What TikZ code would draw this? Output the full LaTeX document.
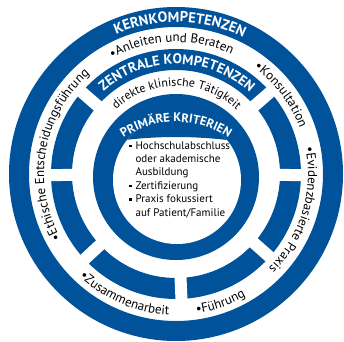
\documentclass[tikz,border=0pt]{standalone}
\usepackage{fontspec}
\setmainfont{PT Sans}
\usetikzlibrary{decorations.text}
\definecolor{ringblau}{RGB}{0,83,155}
\newcommand\kopfschrift[1]{\fontsize{#1}{#1}\selectfont\bfseries\color{white}}
\newcommand\punktschrift{\fontsize{13}{13}\selectfont}
\tikzset{
  bogentext/.style={decorate, decoration={text along path, text align=center, text={#1}}},
}
\begin{document}
\begin{tikzpicture}[x=1pt, y=1pt, line join=round]
\useasboundingbox (-176,-167) rectangle (168,174);
\coordinate (O) at (0,0);
% Außenring
\draw[ringblau, line width=20pt] (O) circle[radius=157pt];
% mittlerer Ring mit Lücken
\draw[ringblau, line width=21pt] (O) circle[radius=114.5pt];
\foreach \w in {-0.5,41,139,180.5,223,272.5,318.5}
  \draw[white, line width=12pt] (O) ++(\w:99pt) -- ++(\w:31pt);
% Innenring, oben breiter
\coordinate (I) at (1,-6);
\fill[ringblau] (0,-3) circle[radius=83pt];
\fill[white] (I) circle[radius=64pt];
\begin{scope}
  \clip (I) circle[radius=64pt];
  \fill[ringblau] (0,-400) ++(100:437pt) arc[start angle=100, end angle=80, radius=437pt]
    -- (80,80) -- (-80,80) -- cycle;
\end{scope}
% Überschriften auf den Ringen
\path[bogentext={|\kopfschrift{14.5}|KERNKOMPETENZEN}]
  (O) ++(128.5:152pt) arc[start angle=128.5, end angle=48.5, radius=152pt];
\path[bogentext={|\kopfschrift{14}|ZENTRALE KOMPETENZEN}]
  (O) ++(144.5:110pt) arc[start angle=144.5, end angle=34.5, radius=110pt];
\path[bogentext={|\fontsize{12}{12}\selectfont|direkte klinische Tätigkeit}]
  (O) ++(144.5:88pt) arc[start angle=144.5, end angle=34.5, radius=88pt];
\path[bogentext={|\kopfschrift{12.5}|PRIMÄRE KRITERIEN}]
  (0,-43) ++(135:95pt) arc[start angle=135, end angle=45, radius=95pt];
% Kernkompetenzen
\path[bogentext={|\punktschrift|•Anleiten und Beraten}]
  (O) ++(137:132pt) arc[start angle=137, end angle=47, radius=132pt];
\path[bogentext={|\punktschrift|•Konsultation}]
  (O) ++(62:132pt) arc[start angle=62, end angle=12, radius=132pt];
\path[bogentext={|\punktschrift|•Evidenzbasierte Praxis}]
  (O) ++(22:132pt) arc[start angle=22, end angle=-56, radius=132pt];
\path[bogentext={|\punktschrift|•Führung}]
  (O) ++(-92:141pt) arc[start angle=-92, end angle=-50, radius=141pt];
\path[bogentext={|\punktschrift|•Zusammenarbeit}]
  (O) ++(214:141pt) arc[start angle=214, end angle=280, radius=141pt];
\path[bogentext={|\punktschrift|•Ethische Entscheidungsführung}]
  (O) ++(230:132pt) arc[start angle=230, end angle=110, radius=132pt];
% Kriterien im Kreis
\node[anchor=base west, inner sep=0pt, font=\fontsize{11}{13.4}\selectfont] (krit) at (-47,25)
  {\begin{tabular}[t]{@{}l@{\hspace{4pt}}l@{}}
    \raisebox{2pt}{\rule{2.4pt}{2.4pt}} & Hochschulabschluss\\
     & oder akademische\\
     & Ausbildung\\
    \raisebox{2pt}{\rule{2.4pt}{2.4pt}} & Zertifizierung\\
    \raisebox{2pt}{\rule{2.4pt}{2.4pt}} & Praxis fokussiert\\
     & auf Patient/Familie
  \end{tabular}};
\end{tikzpicture}
\end{document}
